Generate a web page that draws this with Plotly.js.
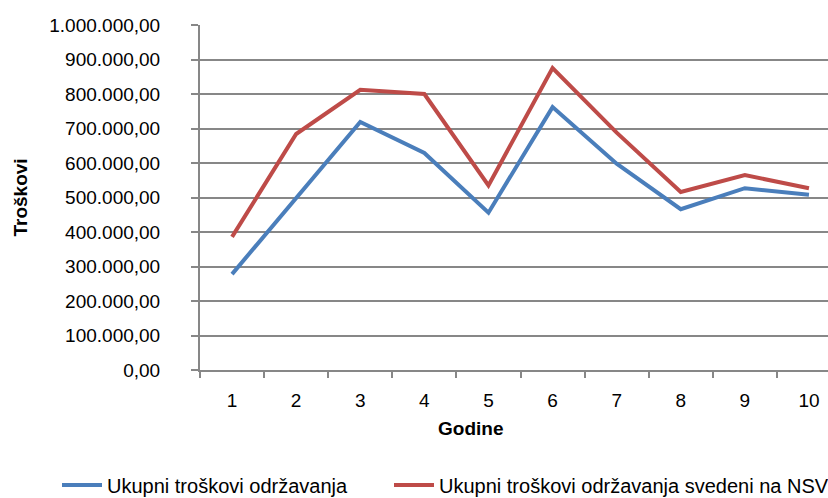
<!DOCTYPE html>
<html>
<head>
<meta charset="utf-8">
<script src="https://cdn.plot.ly/plotly-3.0.1.min.js"></script>
<style>html,body{margin:0;padding:0;background:#fff;}#chart{width:828px;height:498px;}</style>
</head>
<body>
<div id="chart"></div>
<script>
var years = ['1','2','3','4','5','6','7','8','9','10'];
var ukupni = [278000, 500000, 719000, 629000, 456000, 762000, 598000, 466000, 527000, 508000];
var svedeni = [386000, 684000, 812000, 800000, 535000, 875000, 688000, 516000, 565000, 527000];
var seriesNames = ['Ukupni troškovi održavanja', 'Ukupni troškovi održavanja svedeni na NSV'];
var yTicks = [0, 100000, 200000, 300000, 400000, 500000, 600000, 700000, 800000, 900000, 1000000];

var fontFam = 'Liberation Sans, Arial, sans-serif';
var gridC = '#878787';

var traces = [
  {x: years, y: ukupni, name: seriesNames[0], type: 'scatter', mode: 'lines',
   line: {color: '#4A7EBB', width: 4}, legend: 'legend'},
  {x: years, y: svedeni, name: seriesNames[1], type: 'scatter', mode: 'lines',
   line: {color: '#BE4B48', width: 4}, legend: 'legend2'}
];

var legendCommon = {
  orientation: 'h', xref: 'container', yref: 'container',
  xanchor: 'left', yanchor: 'middle', itemwidth: 40,
  font: {family: fontFam, size: 20, color: '#000'},
  bgcolor: 'rgba(0,0,0,0)'
};

var layout = {
  width: 828, height: 498,
  margin: {l: 200, r: 0, t: 25, b: 128},
  paper_bgcolor: '#fff', plot_bgcolor: '#fff',
  separators: ',.',
  font: {family: fontFam, size: 18, color: '#000'},
  showlegend: true,
  xaxis: {
    type: 'category',
    range: [-0.5, 9.297],
    tickson: 'boundaries',
    ticks: 'outside', ticklen: 6, tickwidth: 2, tickcolor: gridC,
    showline: true, linecolor: gridC, linewidth: 2,
    showgrid: false, zeroline: false,
    ticklabelstandoff: 12,
    tickfont: {family: fontFam, size: 19, color: '#000'}
  },
  yaxis: {
    range: [0, 1000000],
    tickvals: yTicks,
    tickformat: ',.2f',
    ticks: 'outside', ticklen: 7, tickwidth: 2, tickcolor: gridC,
    showline: true, linecolor: gridC, linewidth: 2,
    showgrid: true, gridcolor: gridC, gridwidth: 2,
    zeroline: false,
    ticklabelstandoff: 27,
    tickfont: {family: fontFam, size: 19, color: '#000'},
    title: {text: '<b>Troškovi</b>', font: {family: fontFam, size: 19, color: '#000'}, standoff: 17}
  },
  annotations: [
    {text: '<b>Godine</b>', xref: 'paper', yref: 'paper', x: (470 - 200) / 628, y: -(428 - 370) / 345,
     xanchor: 'center', yanchor: 'middle', showarrow: false,
     font: {family: fontFam, size: 19, color: '#000'}}
  ],
  legend: Object.assign({}, legendCommon, {x: 57 / 828, y: 13 / 498}),
  legend2: Object.assign({}, legendCommon, {x: 389 / 828, y: 13 / 498})
};

Plotly.newPlot('chart', traces, layout, {displayModeBar: false, staticPlot: true});
</script>
</body>
</html>
